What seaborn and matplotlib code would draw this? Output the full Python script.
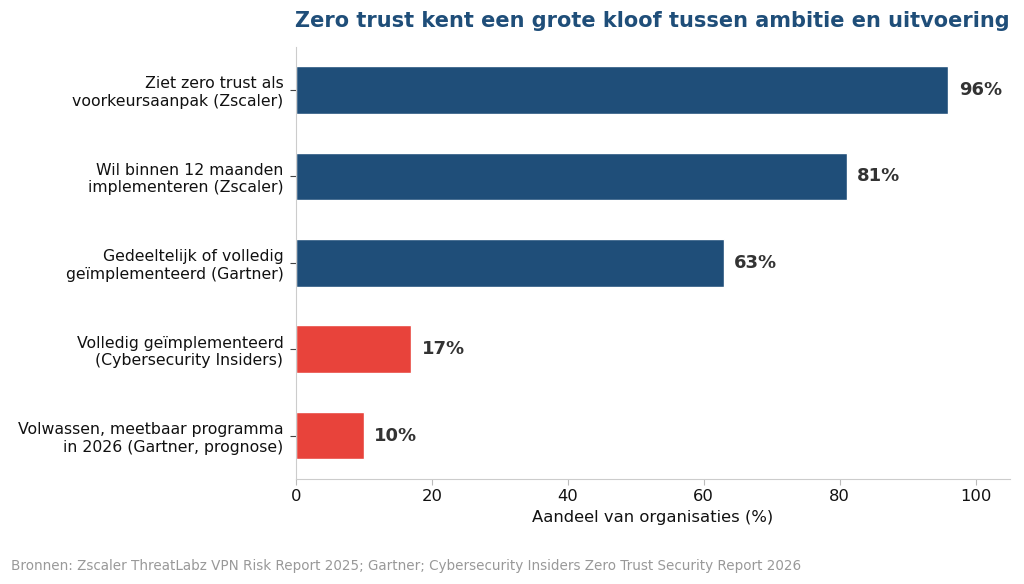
import matplotlib
matplotlib.use("Agg")
import matplotlib.pyplot as plt
import seaborn as sns
import pandas as pd

categories = [
    "Ziet zero trust als\nvoorkeursaanpak (Zscaler)",
    "Wil binnen 12 maanden\nimplementeren (Zscaler)",
    "Gedeeltelijk of volledig\ngeïmplementeerd (Gartner)",
    "Volledig geïmplementeerd\n(Cybersecurity Insiders)",
    "Volwassen, meetbaar programma\nin 2026 (Gartner, prognose)",
]
values = [96, 81, 63, 17, 10]
groups = ["ambitie", "ambitie", "ambitie", "uitvoering", "uitvoering"]
palette = {"ambitie": "#1f4e79", "uitvoering": "#e8433b"}

df = pd.DataFrame({"cat": categories, "val": values, "grp": groups})

sns.set_style("white")
plt.rcParams['font.family'] = ['DejaVu Sans']

fig = plt.figure(figsize=(10.24, 5.84), dpi=100)
ax = fig.add_axes([0.289, 0.180, 0.697, 0.740])
sns.barplot(data=df, x="val", y="cat", hue="grp", palette=palette, dodge=False,
            width=0.55, legend=False, ax=ax, saturation=1)

for i, v in enumerate(values):
    ax.text(v + 1.5, i, f"{v}%", va="center", ha="left", fontsize=13,
            fontweight="bold", color="#333333")

ax.set_xlim(0, 105)
ax.set_xlabel("Aandeel van organisaties (%)", fontsize=11.8, color="#111111")
ax.set_ylabel("")
ax.tick_params(axis="x", labelsize=11.8, length=4, color="#bbbbbb", bottom=True,
               labelcolor="#111111")
ax.tick_params(axis="y", labelsize=11.3, length=4, color="#444444", width=0.8,
               left=True, labelcolor="#111111", pad=5)
for s in ["top", "right"]:
    ax.spines[s].set_visible(False)
for s in ["left", "bottom"]:
    ax.spines[s].set_color("#cccccc")
ax.set_title("Zero trust kent een grote kloof tussen ambitie en uitvoering",
             fontsize=15.05, fontweight="bold", color="#1f4e79", pad=14)

fig.text(0.011, 0.030, "Bronnen: Zscaler ThreatLabz VPN Risk Report 2025; Gartner; Cybersecurity Insiders Zero Trust Security Report 2026",
         fontsize=9.75, color="#999999", ha="left", va="center")

fig.savefig("out.png", dpi=100)
